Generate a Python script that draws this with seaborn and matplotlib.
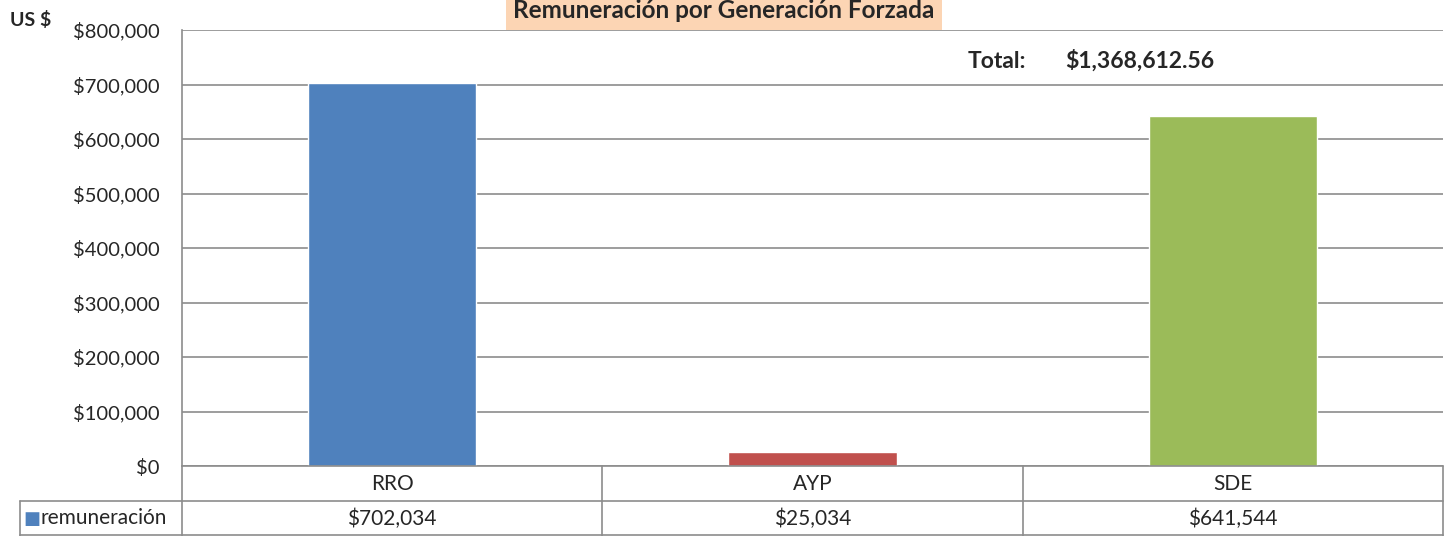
import matplotlib
matplotlib.use("Agg")
import matplotlib.pyplot as plt
import matplotlib.transforms as mtransforms
from matplotlib.ticker import FuncFormatter
import seaborn as sns
import pandas as pd

# data
categories = ["RRO", "AYP", "SDE"]
values = [702034, 25034, 641544]
series_name = "remuneración"
total_text = "$1,368,612.56"
bar_colors = ["#4F81BD", "#C0504D", "#9BBB59"]

sns.set_style("white")
plt.rcParams["font.family"] = ["Lato", "DejaVu Sans"]

df = pd.DataFrame({"cat": categories, "val": values})

fig = plt.figure(figsize=(14.47, 5.36), dpi=100)
ax = fig.add_axes([182 / 1447, 1 - 466 / 536, 1261 / 1447, 436 / 536])

sns.barplot(data=df, x="cat", y="val", hue="cat", palette=bar_colors,
            width=0.4, legend=False, ax=ax, saturation=1)

ax.set_xlim(-0.5, 2.5)
ax.set_ylim(0, 800000)
ax.set_yticks(range(0, 800001, 100000))
ax.yaxis.set_major_formatter(FuncFormatter(lambda v, p: f"${v:,.0f}"))
ax.tick_params(axis="y", labelsize=14.5, length=0, pad=16)
ax.set_xticks([])
ax.set_xlabel("")
ax.set_ylabel("")
ax.yaxis.grid(True, color="#8c8c8c", linewidth=1.2)
ax.set_axisbelow(True)
for s in ["top", "right", "bottom"]:
    ax.spines[s].set_visible(False)
ax.spines["left"].set_color("#8c8c8c")
ax.spines["left"].set_linewidth(1.2)

# data table below the plot
gray = "#8c8c8c"
row_h = 35 / 436
x_lab = (20 - 182) / 1261
trans = mtransforms.blended_transform_factory(ax.transData, ax.transAxes)
lw = 1.2
ax.plot([0, 1], [0, 0], transform=ax.transAxes, color=gray, lw=lw, clip_on=False)
ax.plot([x_lab, 1], [-row_h, -row_h], transform=ax.transAxes, color=gray, lw=lw, clip_on=False)
ax.plot([x_lab, 1], [-2 * row_h + 0.002, -2 * row_h + 0.002], transform=ax.transAxes, color=gray, lw=lw, clip_on=False)
for xv in [0, 1 / 3, 2 / 3, 1]:
    ax.plot([xv, xv], [0, -2 * row_h], transform=ax.transAxes, color=gray, lw=lw, clip_on=False)
ax.plot([x_lab, x_lab], [-row_h, -2 * row_h], transform=ax.transAxes, color=gray, lw=lw, clip_on=False)

for i, (c, v) in enumerate(zip(categories, values)):
    ax.text(i, -row_h / 2, c, transform=trans, ha="center", va="center", fontsize=15)
    ax.text(i, -1.5 * row_h, f"${v:,.0f}", transform=trans, ha="center", va="center", fontsize=15)

ax.text(x_lab + 0.003, -1.5 * row_h, "\u25A0", transform=ax.transAxes, ha="left", va="center",
        fontsize=13, color=bar_colors[0], family=["DejaVu Sans"])
ax.text(x_lab + 0.0165, -1.5 * row_h, series_name, transform=ax.transAxes, ha="left", va="center",
        fontsize=15)

# titles and annotations
fig.text(724 / 1447, 1 - 11 / 536, "Remuneración por Generación Forzada", ha="center", va="center",
         fontsize=17.5, fontweight="bold",
         bbox=dict(boxstyle="square,pad=0.3", facecolor="#FCD5B4", edgecolor="none"))
fig.text(10 / 1447, 1 - 20 / 536, "US $", ha="left", va="center", fontsize=14, fontweight="bold")
fig.text(968 / 1447, 1 - 61 / 536, "Total:", ha="left", va="center", fontsize=16.5, fontweight="bold")
fig.text(1065 / 1447, 1 - 61 / 536, total_text, ha="left", va="center", fontsize=16.5, fontweight="bold")

fig.savefig("out.png", dpi=100)
